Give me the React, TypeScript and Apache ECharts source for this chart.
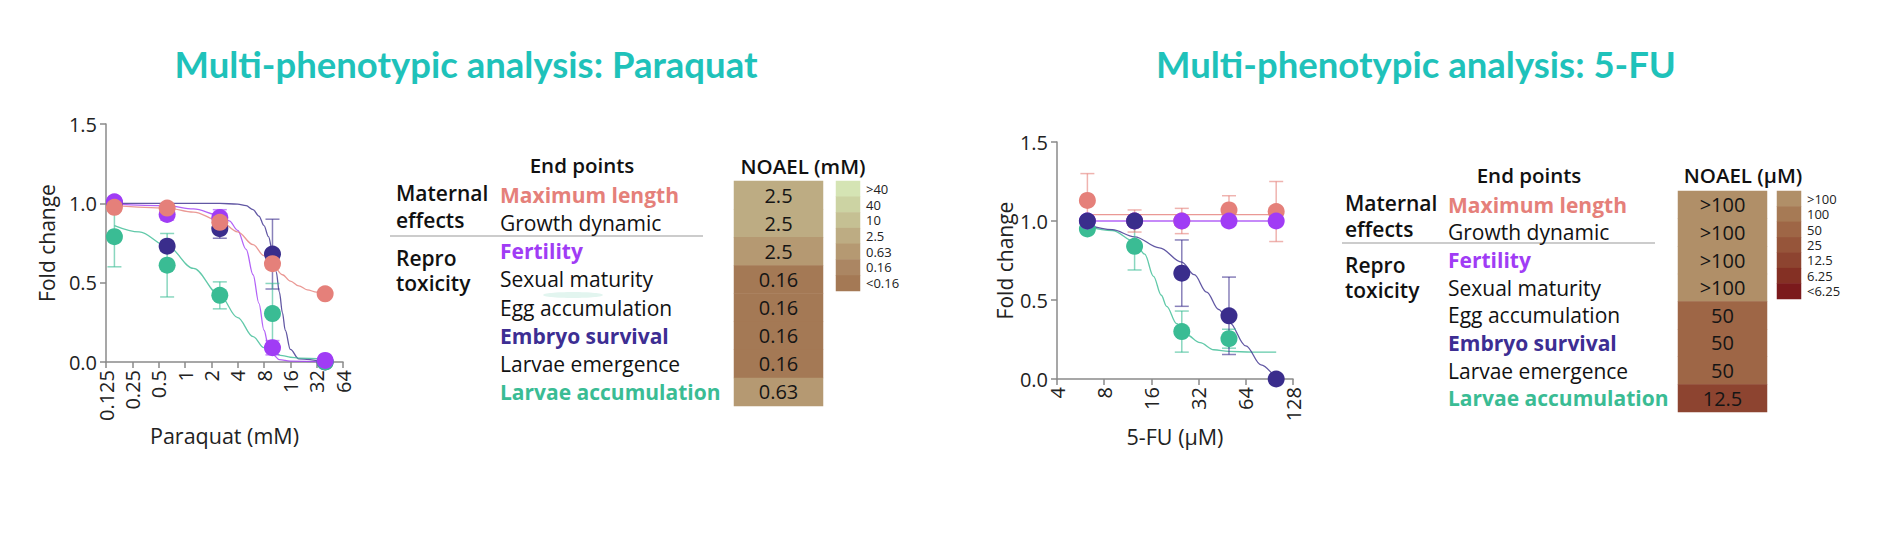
import React, { useEffect, useRef } from 'react';
import * as echarts from 'echarts';

// ---------------- Data ----------------
const PQ_TICKS = [0.125, 0.25, 0.5, 1, 2, 4, 8, 16, 32, 64];
const FU_TICKS = [4, 8, 16, 32, 64, 128];

const PQ_DOSES = [0.156, 0.625, 2.5, 10, 40];
const PQ_MAXLEN = [0.975, 0.97, 0.88, 0.62, 0.43];
const PQ_MAXLEN_ERR = [0.02, 0.015, 0.03, 0.03, 0.015];
const PQ_FERT = [1.01, 0.93, 0.91, 0.09, 0.01];
const PQ_FERT_ERR = [0.01, 0.035, 0.05, 0.045, 0.005];
const PQ_EMB = [1.0, 0.73, 0.84, 0.68, 0.0];
const PQ_EMB_ERR = [0.005, 0.03, 0.06, 0.22, 0];
const PQ_LARV = [0.79, 0.61, 0.42, 0.305, 0.0];
const PQ_LARV_ERR = [0.19, 0.2, 0.085, 0.19, 0];

const PQ_MAXLEN_FIT_X = [0.156, 0.625, 1.25, 2.5, 4, 6, 8, 10, 13, 16, 20, 25, 32, 40];
const PQ_MAXLEN_FIT_Y = [0.985, 0.97, 0.945, 0.89, 0.82, 0.74, 0.67, 0.615, 0.55, 0.51, 0.48, 0.455, 0.44, 0.435];
const PQ_FERT_FIT_X = [0.156, 0.625, 1.25, 2.5, 3.2, 4, 5, 6, 7, 8, 9, 10, 12, 16, 40];
const PQ_FERT_FIT_Y = [0.995, 0.985, 0.965, 0.925, 0.89, 0.83, 0.71, 0.55, 0.37, 0.2, 0.1, 0.05, 0.015, 0.005, 0.0];
const PQ_EMB_FIT_X = [0.156, 1, 2.5, 4, 5, 6, 7, 8, 9, 10, 11, 12, 13, 14, 16, 20, 40];
const PQ_EMB_FIT_Y = [1.0, 1.0, 1.0, 0.995, 0.985, 0.96, 0.92, 0.86, 0.79, 0.7, 0.57, 0.44, 0.31, 0.2, 0.08, 0.02, 0.0];
const PQ_LARV_FIT_X = [0.156, 0.3, 0.625, 1.25, 2.5, 4, 6, 8, 10, 13, 16, 20, 40];
const PQ_LARV_FIT_Y = [0.86, 0.82, 0.73, 0.59, 0.42, 0.28, 0.16, 0.09, 0.06, 0.04, 0.03, 0.025, 0.02];

const FU_DOSES = [6.25, 12.5, 25, 50, 100];
const FU_MAXLEN = [1.13, 1.0, 1.0, 1.07, 1.06];
const FU_MAXLEN_ERR = [0.17, 0.07, 0.08, 0.09, 0.19];
const FU_FERT = [1.0, 1.0, 1.0, 1.0, 1.0];
const FU_FERT_ERR = [0, 0, 0, 0, 0];
const FU_EMB = [1.0, 1.0, 0.67, 0.4, 0.0];
const FU_EMB_ERR = [0, 0, 0.21, 0.245, 0];
const FU_LARV = [0.95, 0.84, 0.3, 0.255, null];
const FU_LARV_ERR = [0.01, 0.15, 0.13, 0.06, 0];

const FU_MAXLEN_FIT_X = [6.25, 100];
const FU_MAXLEN_FIT_Y = [1.04, 1.04];
const FU_FERT_FIT_X = [6.25, 100];
const FU_FERT_FIT_Y = [1.0, 1.0];
const FU_EMB_FIT_X = [6.25, 9, 12.5, 18, 25, 30, 36, 43, 50, 64, 80, 100];
const FU_EMB_FIT_Y = [0.975, 0.945, 0.9, 0.83, 0.74, 0.66, 0.55, 0.44, 0.36, 0.21, 0.09, 0.0];
const FU_LARV_FIT_X = [6.25, 9, 12.5, 14.5, 16.5, 18.5, 20, 23.2, 26.8, 32.7, 40, 50, 70, 100];
const FU_LARV_FIT_Y = [0.965, 0.94, 0.87, 0.79, 0.65, 0.53, 0.46, 0.35, 0.28, 0.23, 0.185, 0.175, 0.17, 0.17];

const ENDPOINTS = [
  'Maximum length', 'Growth dynamic', 'Fertility', 'Sexual maturity',
  'Egg accumulation', 'Embryo survival', 'Larvae emergence', 'Larvae accumulation',
];
const PQ_NOAEL = ['2.5', '2.5', '2.5', '0.16', '0.16', '0.16', '0.16', '0.63'];
const PQ_NOAEL_CLASS = [3, 3, 4, 6, 6, 6, 6, 4];
const PQ_SCALE_LABELS = ['>40', '40', '10', '2.5', '0.63', '0.16', '<0.16'];

const FU_NOAEL = ['>100', '>100', '>100', '>100', '50', '50', '50', '12.5'];
const FU_NOAEL_CLASS = [0, 0, 0, 0, 2, 2, 2, 4];
const FU_SCALE_LABELS = ['>100', '100', '50', '25', '12.5', '6.25', '<6.25'];

// ---------------- Styles ----------------
const FONT = '"Open Sans", sans-serif';
const AX = '#8a8a8a';
const SALMON = '#E5807A';
const PURPLE = '#A03CF5';
const NAVY = '#3A2D8C';
const GREEN = '#3ABC94';
const TEAL = '#1FC2BA';
const PQ_SCALE_COLORS = ['#D5E4B4', '#CCD3A3', '#C5C093', '#BDAC83', '#B59972', '#AB8663', '#A47955'];
const FU_SCALE_COLORS = ['#B08F68', '#A67A55', '#9E6646', '#96553A', '#8D4430', '#843024', '#7B1A1C'];
const ROW_FS = 21;

const RICH = {
  n: { fontSize: ROW_FS, color: '#111', fontFamily: FONT },
  ml: { fontSize: ROW_FS, color: SALMON, fontWeight: 'bold', fontFamily: FONT },
  fe: { fontSize: ROW_FS, color: PURPLE, fontWeight: 'bold', fontFamily: FONT },
  em: { fontSize: ROW_FS, color: '#3D2E93', fontWeight: 'bold', fontFamily: FONT },
  la: { fontSize: ROW_FS, color: GREEN, fontWeight: 'bold', fontFamily: FONT },
};
const HIGHLIGHT: Record<string, string> = {
  'Maximum length': 'ml', 'Fertility': 'fe', 'Embryo survival': 'em', 'Larvae accumulation': 'la',
};

function tickFmt(ticks: number[]) {
  return (v: number) => {
    const t = ticks.find((k) => Math.abs(k - v) < 1e-6 * k);
    return t === undefined ? '' : String(t);
  };
}

function buildOption() {
  const series: any[] = [];

  const curve = (xs: number[], ys: number[], color: string, ai: number) => ({
    type: 'line', xAxisIndex: ai, yAxisIndex: ai, silent: true,
    data: xs.map((x, i) => [x, ys[i]]), showSymbol: false, symbol: 'none',
    smooth: 0.35, smoothMonotone: 'x',
    lineStyle: { color, width: 1.3, opacity: 0.8 }, z: 2,
  });
  const errs = (xs: number[], ys: (number | null)[], es: number[], color: string, ai: number) => ({
    type: 'custom', xAxisIndex: ai, yAxisIndex: ai, silent: true,
    data: xs.map((x, i) => [x, ys[i], es[i]]).filter((d) => d[1] !== null && (d[2] as number) > 0),
    encode: { x: 0, y: 1 },
    renderItem: (params: any, api: any) => {
      const x = api.value(0), y = api.value(1), e = api.value(2);
      const t = api.coord([x, y + e]);
      const b = api.coord([x, y - e]);
      const hw = 7;
      const st = { stroke: color, lineWidth: 1.5, opacity: 0.6 };
      return {
        type: 'group', children: [
          { type: 'line', shape: { x1: t[0], y1: t[1], x2: b[0], y2: b[1] }, style: st },
          { type: 'line', shape: { x1: t[0] - hw, y1: t[1], x2: t[0] + hw, y2: t[1] }, style: st },
          { type: 'line', shape: { x1: b[0] - hw, y1: b[1], x2: b[0] + hw, y2: b[1] }, style: st },
        ],
      };
    },
    z: 3,
  });
  const pts = (name: string, xs: number[], ys: (number | null)[], color: string, ai: number, z: number) => ({
    type: 'scatter', name, xAxisIndex: ai, yAxisIndex: ai, silent: true,
    data: xs.map((x, i) => [x, ys[i]]).filter((d) => d[1] !== null),
    symbolSize: 17, itemStyle: { color, opacity: 1 }, z,
  });

  // Paraquat plot (axis index 0)
  series.push(curve(PQ_EMB_FIT_X, PQ_EMB_FIT_Y, NAVY, 0));
  series.push(curve(PQ_FERT_FIT_X, PQ_FERT_FIT_Y, PURPLE, 0));
  series.push(curve(PQ_LARV_FIT_X, PQ_LARV_FIT_Y, GREEN, 0));
  series.push(curve(PQ_MAXLEN_FIT_X, PQ_MAXLEN_FIT_Y, SALMON, 0));
  series.push(errs(PQ_DOSES, PQ_EMB, PQ_EMB_ERR, NAVY, 0));
  series.push(errs(PQ_DOSES, PQ_FERT, PQ_FERT_ERR, PURPLE, 0));
  series.push(errs(PQ_DOSES, PQ_LARV, PQ_LARV_ERR, GREEN, 0));
  series.push(errs(PQ_DOSES, PQ_MAXLEN, PQ_MAXLEN_ERR, SALMON, 0));
  series.push(pts('Embryo survival', PQ_DOSES, PQ_EMB, NAVY, 0, 10));
  series.push(pts('Larvae accumulation', PQ_DOSES, PQ_LARV, GREEN, 0, 11));
  series.push(pts('Fertility', PQ_DOSES, PQ_FERT, PURPLE, 0, 12));
  series.push(pts('Maximum length', PQ_DOSES, PQ_MAXLEN, SALMON, 0, 13));

  // 5-FU plot (axis index 1)
  series.push(curve(FU_LARV_FIT_X, FU_LARV_FIT_Y, GREEN, 1));
  series.push(curve(FU_MAXLEN_FIT_X, FU_MAXLEN_FIT_Y, SALMON, 1));
  series.push(curve(FU_FERT_FIT_X, FU_FERT_FIT_Y, PURPLE, 1));
  series.push(curve(FU_EMB_FIT_X, FU_EMB_FIT_Y, NAVY, 1));
  series.push(errs(FU_DOSES, FU_LARV, FU_LARV_ERR, GREEN, 1));
  series.push(errs(FU_DOSES, FU_MAXLEN, FU_MAXLEN_ERR, SALMON, 1));
  series.push(errs(FU_DOSES, FU_FERT, FU_FERT_ERR, PURPLE, 1));
  series.push(errs(FU_DOSES, FU_EMB, FU_EMB_ERR, NAVY, 1));
  series.push(pts('Larvae accumulation', FU_DOSES, FU_LARV, GREEN, 1, 10));
  series.push(pts('Maximum length', FU_DOSES, FU_MAXLEN, SALMON, 1, 11));
  series.push(pts('Fertility', FU_DOSES, FU_FERT, PURPLE, 1, 12));
  series.push(pts('Embryo survival', FU_DOSES, FU_EMB, NAVY, 1, 13));

  // heatmaps
  const heat = (ai: number, cls: number[], labels: string[] | null) => ({
    type: 'heatmap', xAxisIndex: ai, yAxisIndex: ai, silent: true,
    data: cls.map((c, i) => [0, i, c]),
    label: {
      show: !!labels, fontSize: 20, color: '#151515', fontFamily: FONT,
      formatter: (p: any) => (labels ? labels[p.dataIndex] : ''),
    },
    itemStyle: { borderWidth: 0 },
  });
  const pqCellIdx = series.length; series.push(heat(2, PQ_NOAEL_CLASS, PQ_NOAEL));
  const pqScaleIdx = series.length; series.push(heat(3, PQ_SCALE_LABELS.map((_, i) => i), null));
  const fuCellIdx = series.length; series.push(heat(4, FU_NOAEL_CLASS, FU_NOAEL));
  const fuScaleIdx = series.length; series.push(heat(5, FU_SCALE_LABELS.map((_, i) => i), null));

  const plotX = (gi: number, min: number, max: number, ticks: number[], name: string, gap: number) => ({
    type: 'log', logBase: 2, gridIndex: gi, min, max,
    axisLine: { show: true, onZero: false, lineStyle: { color: AX, width: 1.5 } },
    axisTick: { show: true, length: 6, lineStyle: { color: AX, width: 1.5 } },
    axisLabel: { rotate: 90, fontSize: 20, color: '#222', margin: 8, fontFamily: FONT, formatter: tickFmt(ticks) },
    splitLine: { show: false }, minorTick: { show: false },
    name, nameLocation: 'middle', nameGap: gap,
    nameTextStyle: { fontSize: 21.5, color: '#222', fontFamily: FONT },
  });
  const plotY = (gi: number, gap: number) => ({
    type: 'value', gridIndex: gi, min: 0, max: 1.5, interval: 0.5,
    axisLine: { show: true, lineStyle: { color: AX, width: 1.5 } },
    axisTick: { show: true, length: 6, lineStyle: { color: AX, width: 1.5 } },
    axisLabel: { fontSize: 20, color: '#222', margin: 9, fontFamily: FONT, formatter: (v: number) => v.toFixed(1) },
    splitLine: { show: false },
    name: 'Fold change', nameLocation: 'middle', nameGap: gap,
    nameTextStyle: { fontSize: 21, color: '#222', fontFamily: FONT },
  });
  const hidX = (gi: number) => ({
    type: 'category', gridIndex: gi, data: ['NOAEL'], show: false,
  });
  const rowY = (gi: number, margin: number) => ({
    type: 'category', gridIndex: gi, data: ENDPOINTS, inverse: true,
    axisLine: { show: false }, axisTick: { show: false }, splitLine: { show: false },
    axisLabel: {
      interval: 0, align: 'left', margin,
      formatter: (v: string) => `{${HIGHLIGHT[v] || 'n'}|${v}}`, rich: RICH,
    },
  });
  const scaleY = (gi: number, labels: string[]) => ({
    type: 'category', gridIndex: gi, data: labels, inverse: true, position: 'right',
    axisLine: { show: false }, axisTick: { show: false }, splitLine: { show: false },
    axisLabel: { interval: 0, margin: 6, fontSize: 13, color: '#222', fontFamily: FONT, align: 'left' },
  });

  const txt = (text: string, x: number, y: number, size: number, weight: any, fill: string, align = 'left', family = FONT) => ({
    type: 'text', x, y, silent: true,
    style: { text, fill, font: `${weight} ${size}px ${family}`, textAlign: align, textVerticalAlign: 'middle' },
  });

  const graphic = [
    txt('Multi-phenotypic analysis: Paraquat', 466, 64, 36.5, 'bold', TEAL, 'center', 'Lato, sans-serif'),
    txt('Multi-phenotypic analysis: 5-FU', 1416, 64, 36.5, 'bold', TEAL, 'center', 'Lato, sans-serif'),
    txt('End points', 582, 165, 20.5, 600, '#111', 'center'),
    txt('NOAEL (mM)', 803, 166, 20.5, 600, '#111', 'center'),
    txt('Maternal', 396, 193, 21, 600, '#111'),
    txt('effects', 396, 220, 21, 600, '#111'),
    txt('Repro', 396, 258, 21, 600, '#111'),
    txt('toxicity', 396, 283, 21, 600, '#111'),
    { type: 'line', silent: true, shape: { x1: 390, y1: 236, x2: 703, y2: 236 }, style: { stroke: '#9a9a9a', lineWidth: 1.2 } },
    { type: 'ellipse', silent: true, shape: { cx: 573, cy: 295, rx: 30, ry: 3 }, style: { fill: 'rgba(58,188,148,0.15)' } },
    txt('End points', 1529, 175, 20.5, 600, '#111', 'center'),
    txt('NOAEL (\u00B5M)', 1743, 175, 20.5, 600, '#111', 'center'),
    txt('Maternal', 1345, 203, 21, 600, '#111'),
    txt('effects', 1345, 229, 21, 600, '#111'),
    txt('Repro', 1345, 265, 21, 600, '#111'),
    txt('toxicity', 1345, 290, 21, 600, '#111'),
    { type: 'line', silent: true, shape: { x1: 1342, y1: 243, x2: 1655, y2: 243 }, style: { stroke: '#9a9a9a', lineWidth: 1.2 } },
  ];

  return {
    animation: false,
    backgroundColor: '#ffffff',
    textStyle: { fontFamily: FONT },
    grid: [
      { left: 106, top: 124, width: 237, height: 238, outerBoundsMode: 'none' },
      { left: 1057, top: 142, width: 236, height: 237, outerBoundsMode: 'none' },
      { left: 734, top: 181, width: 89, height: 225, outerBoundsMode: 'none' },
      { left: 836, top: 181, width: 24, height: 110, outerBoundsMode: 'none' },
      { left: 1678, top: 191, width: 89, height: 221, outerBoundsMode: 'none' },
      { left: 1777, top: 191, width: 24, height: 108, outerBoundsMode: 'none' },
    ],
    xAxis: [
      plotX(0, 0.125, 64, PQ_TICKS, 'Paraquat (mM)', 60),
      plotX(1, 4, 128, FU_TICKS, '5-FU (\u00B5M)', 43),
      hidX(2), hidX(3), hidX(4), hidX(5),
    ],
    yAxis: [
      plotY(0, 49), plotY(1, 40),
      rowY(2, 234), scaleY(3, PQ_SCALE_LABELS),
      rowY(4, 230), scaleY(5, FU_SCALE_LABELS),
    ],
    visualMap: [
      {
        type: 'piecewise', show: false, seriesIndex: [pqCellIdx, pqScaleIdx], dimension: 2,
        pieces: PQ_SCALE_COLORS.map((c, i) => ({ value: i, color: c })),
      },
      {
        type: 'piecewise', show: false, seriesIndex: [fuCellIdx, fuScaleIdx], dimension: 2,
        pieces: FU_SCALE_COLORS.map((c, i) => ({ value: i, color: c })),
      },
    ],
    graphic,
    series,
  };
}

export default function App() {
  const ref = useRef<HTMLDivElement>(null);
  useEffect(() => {
    if (!ref.current) return;
    const chart = echarts.init(ref.current, null, { renderer: 'svg' });
    chart.setOption(buildOption() as any);
    return () => chart.dispose();
  }, []);
  return (
    <div
      ref={ref}
      style={{ position: 'absolute', left: 0, top: 0, width: 1881, height: 538, background: '#fff' }}
    />
  );
}
